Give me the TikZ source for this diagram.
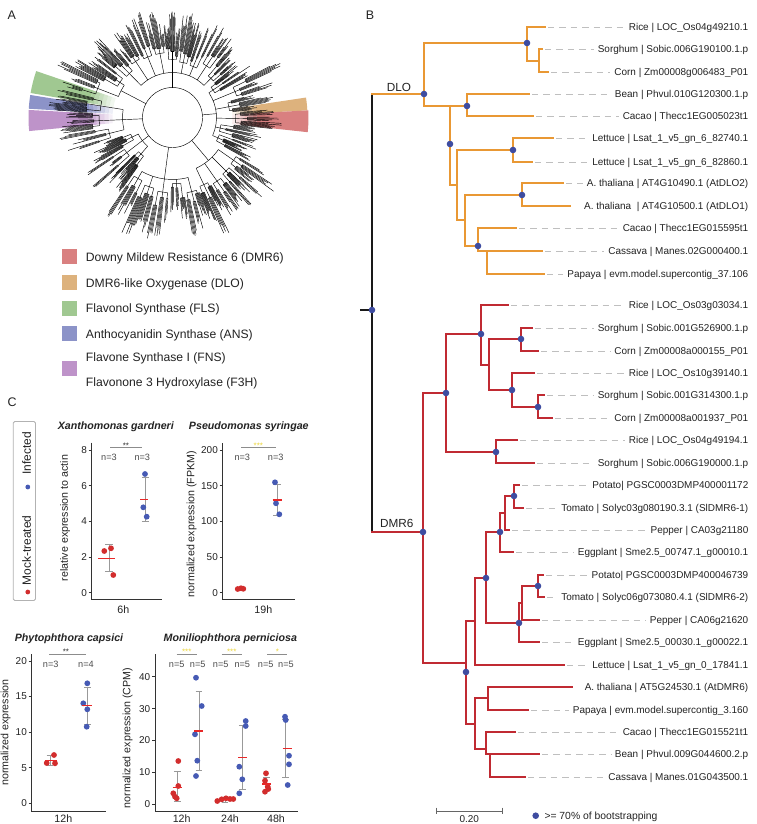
\documentclass[tikz,border=0pt]{standalone}
\usepackage{fontspec}
\setmainfont{Liberation Sans}
\usetikzlibrary{calc}
\definecolor{dloc}{RGB}{233,152,52}
\definecolor{dmrc}{RGB}{192,42,50}
\definecolor{dotc}{RGB}{62,76,160}
\definecolor{wred}{RGB}{217,128,128}
\definecolor{wtan}{RGB}{221,178,125}
\definecolor{wgreen}{RGB}{160,200,145}
\definecolor{wblue}{RGB}{140,147,200}
\definecolor{wpurp}{RGB}{190,147,201}
\definecolor{pred}{RGB}{210,45,45}
\definecolor{pblue}{RGB}{70,90,180}
\definecolor{meanc}{RGB}{232,40,40}
\definecolor{sigyel}{RGB}{236,214,60}
\definecolor{txtc}{RGB}{35,35,35}
\tikzset{
  panlab/.style={font=\fontsize{12.5}{14}\selectfont, text=txtc, inner sep=0pt},
  dlo/.style={draw=dloc, line width=1.6bp, line cap=rect},
  dmr/.style={draw=dmrc, line width=1.6bp, line cap=rect},
  rootl/.style={draw=black!90, line width=1.3bp},
  leaflab/.style={anchor=base east, inner sep=0pt, text=txtc, font=\fontsize{10}{12}\selectfont},
  dashln/.style={draw=black!25, line width=0.8pt, dash pattern=on 6.5pt off 5pt},
  tl/.style={line width=0.45pt, draw=black},
  leglab/.style={anchor=base west, inner sep=0pt, text=txtc, font=\fontsize{12.2}{14}\selectfont},
  ptitle/.style={anchor=base, inner sep=0pt, text=txtc, font=\fontsize{10.7}{12}\selectfont\bfseries\itshape},
  axisc/.style={draw=black!80, line width=0.8pt},
  ticklab/.style={anchor=east, inner sep=0pt, text=txtc, font=\fontsize{10}{12}\selectfont},
  ylab/.style={rotate=90, inner sep=0pt, text=txtc, font=\fontsize{10.7}{12}\selectfont},
  xlab/.style={inner sep=0pt, text=txtc, font=\fontsize{10.7}{12}\selectfont},
  nlab/.style={inner sep=0pt, text=black!70, font=\fontsize{9.2}{11}\selectfont},
  sigl/.style={draw=black!45, line width=0.8pt},
  stars/.style={anchor=base, inner sep=0pt, font=\fontsize{8}{9}\selectfont},
  ebar/.style={draw=black!40, line width=0.9pt},
  meanl/.style={draw=meanc, line width=1.2pt},
}
\newcommand{\leaflab}[4]{%
  \coordinate (e#1) at (#2,#3);
  \node[leaflab] (t#1) at (748.5,{#3+3.6}) {#4};
  \draw[dashln] ($(e#1)+(3,0)$) -- ($(e#1 -| t#1.west)+(-4,0)$);
}
\newcommand{\leaflabnd}[4]{%
  \coordinate (e#1) at (#2,#3);
  \node[leaflab] (t#1) at (748.5,{#3+3.6}) {#4};
}
\newcommand{\bd}[2]{\fill[dotc] (#1,#2) circle (3.3bp);}
\newcommand{\ebarat}[4]{\draw[ebar] ({#1-#4},#2) -- ({#1+#4},#2) (#1,#2) -- (#1,#3) ({#1-#4},#3) -- ({#1+#4},#3);}
\begin{document}
\begin{tikzpicture}[x=1bp,y=-1bp]
\useasboundingbox (0,0) rectangle (757,824);
\fill[white] (0,0) rectangle (757,824);

% ---------------- panel letters
\node[panlab] (labA) at (11.7,15) {A};
\node[panlab] (labB) at (370,15) {B};
\node[panlab] (labC) at (12,402) {C};

% ---------------- panel A: circular tree
\pgfmathsetseed{4242}
\begin{scope}[shift={(172.5,117.5)}, yscale=-1]
  \foreach \c/\a/\b/\ro in {wtan/3/8.5/135, wred/-6.2/3/136, wgreen/161.2/170.2/144, wblue/171/176.5/144, wpurp/177/185.4/144} {
    \foreach \k in {0,...,5} {
      \pgfmathsetmacro{\ri}{60+4*\k}
      \pgfmathsetmacro{\rj}{\ri+4}
      \pgfmathsetmacro{\op}{(\k+1)/7}
      \fill[\c, opacity=\op] (\a:\ri) arc[start angle=\a, end angle=\b, radius=\ri] -- (\b:\rj) arc[start angle=\b, end angle=\a, radius=\rj] -- cycle;
    }
    \fill[\c] (\a:84) arc[start angle=\a, end angle=\b, radius=84] -- (\b:\ro) arc[start angle=\b, end angle=\a, radius=\ro] -- cycle;
  }
  \draw[tl] (0,0) circle (30);
  \foreach \a/\b/\ra in {40/140/45, 140/165/58, 165/200/50, 200/235/38, 235/290/62, 290/330/56, 330/400/44} {
    \pgfmathsetmacro{\n}{int(max(2,round((\b-\a)/11)))}
    \pgfmathsetmacro{\w}{(\b-\a)/\n}
    \pgfmathsetmacro{\m}{(\a+\b)/2}
    \draw[tl] (\m:30) -- (\m:\ra);
    \draw[tl] ({\a+\w/2}:\ra) arc[start angle={\a+\w/2}, end angle={\b-\w/2}, radius=\ra];
    \foreach \i in {1,...,\n} {
      \pgfmathsetmacro{\sm}{\a+(\i-0.5)*\w}
      \pgfmathsetmacro{\rb}{\ra+4+20*rnd}
      \pgfmathsetmacro{\gw}{\w/3}
      \draw[tl] (\sm:\ra) -- (\sm:\rb);
      \draw[tl] ({\sm-\gw}:\rb) arc[start angle={\sm-\gw}, end angle={\sm+\gw}, radius=\rb];
      \foreach \g in {-1,0,1} {
        \pgfmathsetmacro{\gm}{\sm+\g*\gw}
        \pgfmathsetmacro{\rc}{\rb+3+12*rnd}
        \pgfmathsetmacro{\nl}{int(3+6*rnd)}
        \pgfmathsetmacro{\ls}{min(0.55,\gw*0.85/(\nl-1))}
        \pgfmathsetmacro{\lza}{\gm-(\nl-1)*\ls/2}
        \pgfmathsetmacro{\lzb}{\lza+(\nl-1)*\ls}
        \pgfmathsetmacro{\lbase}{8+22*rnd}
        \draw[tl] (\gm:\rb) -- (\gm:\rc);
        \draw[tl] (\lza:\rc) arc[start angle=\lza, end angle=\lzb, radius=\rc];
        \foreach \j in {1,...,\nl} {
          \pgfmathsetmacro{\tang}{\lza+(\j-1)*\ls}
          \pgfmathsetmacro{\rtip}{\rc+\lbase+14*rnd}
          \draw[tl] (\tang:\rc) -- (\tang:\rtip);
        }
      }
    }
  }
\end{scope}

% ---------------- panel A legend
\foreach \c/\yy in {wred/256.7, wtan/282.4, wgreen/308.1, wblue/333.8, wpurp/368.5} {
  \fill[\c] (61.7,{\yy-7.4}) rectangle (76.7,{\yy+7.4});
}
\node[leglab] (lg1) at (85.7,261.1) {Downy Mildew Resistance 6 (DMR6)};
\node[leglab] (lg2) at (85.7,287.0) {DMR6-like Oxygenase (DLO)};
\node[leglab] (lg3) at (85.7,312.7) {Flavonol Synthase (FLS)};
\node[leglab] (lg4) at (85.7,338.4) {Anthocyanidin Synthase (ANS)};
\node[leglab] (lg5) at (85.7,361.1) {Flavone Synthase I (FNS)};
\node[leglab] (lg6) at (85.7,386.1) {Flavonone 3 Hydroxylase (F3H)};

% ---------------- panel B: tree
\draw[rootl] (372,94) -- (372,532) (360,310) -- (372,310);
\draw[dlo] (372,94) -- (424,94)
  (424,43) -- (424,106)
  (424,43) -- (527,43)
  (527,27) -- (527,61)
  (527,27) -- (545,27)
  (527,61) -- (539,61)
  (539,49) -- (539,72)
  (539,49) -- (542,49)
  (539,72) -- (548,72)
  (424,106) -- (467,106)
  (467,94) -- (467,116)
  (467,94) -- (529,94)
  (467,116) -- (533,116)
  (450,106) -- (450,185)
  (450,185) -- (457,185)
  (457,150) -- (457,220)
  (457,150) -- (513,150)
  (513,138) -- (513,162)
  (513,138) -- (553,138)
  (513,162) -- (532,162)
  (457,220) -- (465,220)
  (465,195) -- (465,246)
  (465,195) -- (522,195)
  (522,183) -- (522,206)
  (522,183) -- (563,183)
  (522,206) -- (570,206)
  (465,246) -- (478,246)
  (478,228) -- (478,251)
  (478,228) -- (516,228)
  (478,251) -- (542,251)
  (487,251) -- (487,274)
  (487,274) -- (544,274);
\draw[dmr] (372,532) -- (423,532)
  (423,393) -- (423,663)
  (423,393) -- (446,393)
  (446,334) -- (446,452)
  (446,334) -- (481,334)
  (481,305) -- (481,365)
  (481,305) -- (508,305)
  (481,365) -- (489,365)
  (489,339) -- (489,390)
  (489,339) -- (521,339)
  (521,328) -- (521,351)
  (521,328) -- (532,328)
  (521,351) -- (538,351)
  (489,390) -- (512,390)
  (512,373) -- (512,407)
  (512,373) -- (534,373)
  (512,407) -- (538,407)
  (538,395) -- (538,418)
  (538,395) -- (544,395)
  (538,418) -- (552,418)
  (446,452) -- (496,452)
  (496,440) -- (496,463)
  (496,440) -- (517,440)
  (496,463) -- (534,463)
  (423,663) -- (466,663)
  (466,621) -- (466,724)
  (466,621) -- (475,621)
  (475,578) -- (475,665)
  (475,578) -- (486,578)
  (486,532) -- (486,623)
  (486,532) -- (500,532)
  (500,513) -- (500,552)
  (500,513) -- (505,513)
  (505,496) -- (505,530)
  (505,496) -- (514,496)
  (514,485) -- (514,508)
  (514,485) -- (519,485)
  (514,508) -- (523,508)
  (505,530) -- (509,530)
  (500,552) -- (513,552)
  (486,623) -- (519,623)
  (519,603) -- (519,642)
  (519,603) -- (522,603)
  (522,586) -- (522,620)
  (522,586) -- (538,586)
  (538,575) -- (538,597)
  (538,575) -- (543,575)
  (538,597) -- (544,597)
  (522,620) -- (539,620)
  (519,642) -- (539,642)
  (475,665) -- (564,665)
  (466,724) -- (475,724)
  (475,698) -- (475,749)
  (475,698) -- (488,698)
  (488,687) -- (488,710)
  (488,687) -- (572,687)
  (488,710) -- (528,710)
  (475,749) -- (486,749)
  (486,732) -- (486,754)
  (486,732) -- (515,732)
  (486,754) -- (539,754)
  (490,754) -- (490,777)
  (490,777) -- (525,777);

% bootstrap dots
\bd{372}{310}
\bd{424}{94} \bd{527}{43} \bd{467}{106} \bd{450}{144} \bd{513}{150} \bd{522}{195} \bd{478}{246}
\bd{423}{532} \bd{446}{393} \bd{481}{334} \bd{521}{339} \bd{512}{390} \bd{538}{407} \bd{496}{452}
\bd{500}{532} \bd{514}{496} \bd{486}{578} \bd{519}{623} \bd{538}{586} \bd{466}{672}

\node[inner sep=0pt, text=txtc, font=\fontsize{11.8}{13}\selectfont] (cDLO) at (399,87.5) {DLO};
\node[inner sep=0pt, text=txtc, font=\fontsize{11.8}{13}\selectfont] (cDMR) at (396.7,523.5) {DMR6};

% leaf labels DLO
\leaflab{a1}{545}{27}{Rice | LOC\_Os04g49210.1}
\leaflab{a2}{542}{49}{Sorghum | Sobic.006G190100.1.p}
\leaflab{a3}{548}{72}{Corn | Zm00008g006483\_P01}
\leaflab{a4}{529}{94}{Bean | Phvul.010G120300.1.p}
\leaflab{a5}{533}{116}{Cacao | Thecc1EG005023t1}
\leaflab{a6}{553}{138}{Lettuce | Lsat\_1\_v5\_gn\_6\_82740.1}
\leaflab{a7}{532}{162}{Lettuce | Lsat\_1\_v5\_gn\_6\_82860.1}
\leaflab{a8}{563}{183}{A. thaliana | AT4G10490.1 (AtDLO2)}
\leaflabnd{a9}{570}{206}{A. thaliana\ \ | AT4G10500.1 (AtDLO1)}
\leaflab{a10}{516}{228}{Cacao | Thecc1EG015595t1}
\leaflab{a11}{542}{251}{Cassava | Manes.02G000400.1}
\leaflab{a12}{544}{274}{Papaya | evm.model.supercontig\_37.106}
% leaf labels DMR6
\leaflab{b1}{508}{305}{Rice | LOC\_Os03g03034.1}
\leaflab{b2}{532}{328}{Sorghum | Sobic.001G526900.1.p}
\leaflab{b3}{538}{351}{Corn | Zm00008a000155\_P01}
\leaflab{b4}{534}{373}{Rice | LOC\_Os10g39140.1}
\leaflab{b5}{544}{395}{Sorghum | Sobic.001G314300.1.p}
\leaflab{b6}{552}{418}{Corn | Zm00008a001937\_P01}
\leaflab{b7}{517}{440}{Rice | LOC\_Os04g49194.1}
\leaflab{b8}{534}{463}{Sorghum | Sobic.006G190000.1.p}
\leaflab{b9}{519}{485}{Potato| PGSC0003DMP400001172}
\leaflab{b10}{523}{508}{Tomato | Solyc03g080190.3.1 (SlDMR6-1)}
\leaflab{b11}{509}{530}{Pepper | CA03g21180}
\leaflab{b12}{513}{552}{Eggplant | Sme2.5\_00747.1\_g00010.1}
\leaflab{b13}{543}{575}{Potato| PGSC0003DMP400046739}
\leaflab{b14}{544}{597}{Tomato | Solyc06g073080.4.1 (SlDMR6-2)}
\leaflab{b15}{539}{620}{Pepper | CA06g21620}
\leaflab{b16}{539}{642}{Eggplant | Sme2.5\_00030.1\_g00022.1}
\leaflab{b17}{564}{665}{Lettuce | Lsat\_1\_v5\_gn\_0\_17841.1}
\leaflabnd{b18}{572}{687}{A. thaliana | AT5G24530.1 (AtDMR6)}
\leaflab{b19}{528}{710}{Papaya | evm.model.supercontig\_3.160}
\leaflab{b20}{515}{732}{Cacao | Thecc1EG015521t1}
\leaflab{b21}{539}{754}{Bean | Phvul.009G044600.2.p}
\leaflab{b22}{525}{777}{Cassava | Manes.01G043500.1}

% scale bar and legend
\coordinate (sb1) at (436.7,811);
\coordinate (sb2) at (502.3,811);
\draw[draw=black!60, line width=0.8pt] (sb1) -- (sb2) ($(sb1)+(0,-3.3)$) -- ($(sb1)+(0,3.3)$) ($(sb2)+(0,-3.3)$) -- ($(sb2)+(0,3.3)$);
\node[inner sep=0pt, text=txtc, font=\fontsize{10}{12}\selectfont, anchor=base] (sbl) at (469.3,822.8) {0.20};
\bd{535.7}{815.7}
\node[inner sep=0pt, text=txtc, font=\fontsize{10.4}{12}\selectfont, anchor=base west] (bslab) at (544.3,819.4) {>= 70\% of bootstrapping};

% ---------------- panel C legend
\draw[draw=black!30, line width=0.8pt, rounded corners=1.5pt] (13.3,421.5) rectangle (35.5,600.5);
\node[inner sep=0pt, rotate=90, text=txtc, font=\fontsize{12}{14}\selectfont] (lInf) at (26.7,453.5) {Infected};
\node[inner sep=0pt, rotate=90, text=txtc, font=\fontsize{12}{14}\selectfont] (lMock) at (26.7,550.5) {Mock-treated};
\fill[pblue] (27.8,487) circle (2.4bp);
\fill[pred] (27.8,592) circle (2.4bp);

% ---------------- plot 1: Xanthomonas
\node[ptitle] (t1) at (115.8,429.5) {Xanthomonas gardneri};
\draw[axisc] (91.7,442.7) -- (91.7,599.3) -- (161.7,599.3);
\foreach \v in {0,2,4,6,8} {
  \pgfmathsetmacro{\yy}{592.7-17.85*\v}
  \draw[axisc] (88.7,\yy) -- (91.7,\yy);
  \node[ticklab] at (87,\yy) {\v};
}
\node[ylab] (y1) at (65,518) {relative expression to actin};
\node[xlab] (x1) at (123.3,609.5) {6h};
\draw[sigl] (110,447.7) -- (141.7,447.7);
\node[stars, text=black!80] at (126,448.3) {**};
\node[nlab] at (109,457.7) {n=3};
\node[nlab] at (142.3,457.7) {n=3};
\ebarat{109}{544.3}{571}{3.7}
\ebarat{145.3}{477.3}{521}{3.4}
\foreach \p in {(104.3,551),(111,548.3),(113.3,575)} \fill[pred] \p circle (2.9bp);
\foreach \p in {(145,474),(143.3,507.3),(146.7,516.7)} \fill[pblue] \p circle (2.9bp);
\draw[meanl] (98.3,558.3) -- (115,558.3) (140,499.3) -- (148.3,499.3);

% ---------------- plot 2: Pseudomonas
\node[ptitle] (t2) at (248.8,429.5) {Pseudomonas syringae};
\draw[axisc] (222.7,443.3) -- (222.7,599.3) -- (295,599.3);
\foreach \v in {0,50,100,150,200} {
  \pgfmathsetmacro{\yy}{592.7-0.714*\v}
  \draw[axisc] (219.7,\yy) -- (222.7,\yy);
  \node[ticklab] at (218,\yy) {\v};
}
\node[ylab] (y2) at (191.7,524) {normalized expression (FPKM)};
\node[xlab] (x2) at (263.3,609.5) {19h};
\draw[sigl] (241,447.7) -- (276,447.7);
\node[stars, text=sigyel] at (258.3,448.3) {***};
\node[nlab] at (242.3,457.7) {n=3};
\node[nlab] at (275.7,457.7) {n=3};
\ebarat{277}{484}{515.7}{3.7}
\foreach \p in {(237.7,589),(241,588.2),(243.3,588.8)} \fill[pred] \p circle (2.9bp);
\foreach \p in {(275,482.3),(276,503.3),(279.3,514.3)} \fill[pblue] \p circle (2.9bp);
\draw[meanl] (272.7,500) -- (281.7,500);

% ---------------- plot 3: Phytophthora
\node[ptitle] (t3) at (69,641.5) {Phytophthora capsici};
\draw[axisc] (31.7,654.3) -- (31.7,811) -- (106,811);
\foreach \v in {0,5,10,15,20} {
  \pgfmathsetmacro{\yy}{803.3-7.12*\v}
  \draw[axisc] (28.7,\yy) -- (31.7,\yy);
  \node[ticklab] at (27,\yy) {\v};
}
\node[ylab] (y3) at (5.5,732.5) {normalized expression};
\node[xlab] (x3) at (63.3,819) {12h};
\draw[sigl] (49.3,654.3) -- (86,654.3);
\node[stars, text=black!80] at (66,654.9) {**};
\node[nlab] at (50.7,664.3) {n=3};
\node[nlab] at (86,664.3) {n=4};
\ebarat{50}{755.7}{765}{3.3}
\ebarat{87.3}{687.7}{724}{3.3}
\foreach \p in {(46.7,763),(54,755),(55,763.3)} \fill[pred] \p circle (2.9bp);
\foreach \p in {(87.3,683.3),(83.3,703.3),(87.3,709.3),(86.7,726.7)} \fill[pblue] \p circle (2.9bp);
\draw[meanl] (45,760.7) -- (56.7,760.7) (82.3,705.7) -- (91.7,705.7);

% ---------------- plot 4: Moniliophthora
\node[ptitle] (t4) at (230.3,641.5) {Moniliophthora perniciosa};
\draw[axisc] (155,654.3) -- (155,811) -- (298.3,811);
\foreach \v in {0,10,20,30,40} {
  \pgfmathsetmacro{\yy}{804.3-3.19*\v}
  \draw[axisc] (152,\yy) -- (155,\yy);
  \node[ticklab] at (150.3,\yy) {\v};
}
\node[ylab] (y4) at (127.7,738) {normalized expression (CPM)};
\node[xlab] (x4a) at (181.7,819) {12h};
\node[xlab] (x4b) at (230,819) {24h};
\node[xlab] (x4c) at (276,819) {48h};
\draw[sigl] (176.7,654.3) -- (196.7,654.3) (221.7,654.3) -- (241.7,654.3) (267.3,654.3) -- (287.3,654.3);
\node[stars, text=sigyel] at (186.7,654.9) {***};
\node[stars, text=sigyel] at (231.7,654.9) {***};
\node[stars, text=sigyel] at (277.3,654.9) {*};
\foreach \xx in {176.7,197.7,220.7,242.3,265.7,286} \node[nlab] at (\xx,664.3) {n=5};
\ebarat{177.3}{771.7}{801.7}{3.4}
\ebarat{199}{691.7}{770.7}{3.4}
\ebarat{225}{797}{802}{3.4}
\ebarat{242.3}{725}{789.3}{3.4}
\ebarat{266.7}{777.7}{790}{3.4}
\ebarat{285.7}{719.3}{777.7}{3.4}
\foreach \p in {(178.3,761),(178.3,786),(173.3,793.3),(175,796.7),(176.7,798.3),
  (217.3,801),(221.7,799.3),(226,798.3),(230,799),(233.3,799),
  (266,773.3),(265,780.7),(267.7,786.7),(265,791.7),(268.3,789)} \fill[pred] \p circle (2.9bp);
\foreach \p in {(196,677.7),(201.7,706),(195,734.3),(197.3,760.7),(196,776),
  (239.3,793.3),(242.3,779.3),(239.3,766.7),(245.7,726),(245.7,721),
  (285,716.7),(285.7,720),(289,755.7),(289,764.3),(287.7,785)} \fill[pblue] \p circle (2.9bp);
\draw[meanl] (172.7,787.3) -- (181.7,787.3) (194.3,731) -- (203.3,731)
  (220.5,799.5) -- (229.5,799.5) (238.3,757.3) -- (247.3,757.3)
  (262,784) -- (271,784) (282.7,748.3) -- (291.7,748.3);
\end{tikzpicture}
\end{document}
